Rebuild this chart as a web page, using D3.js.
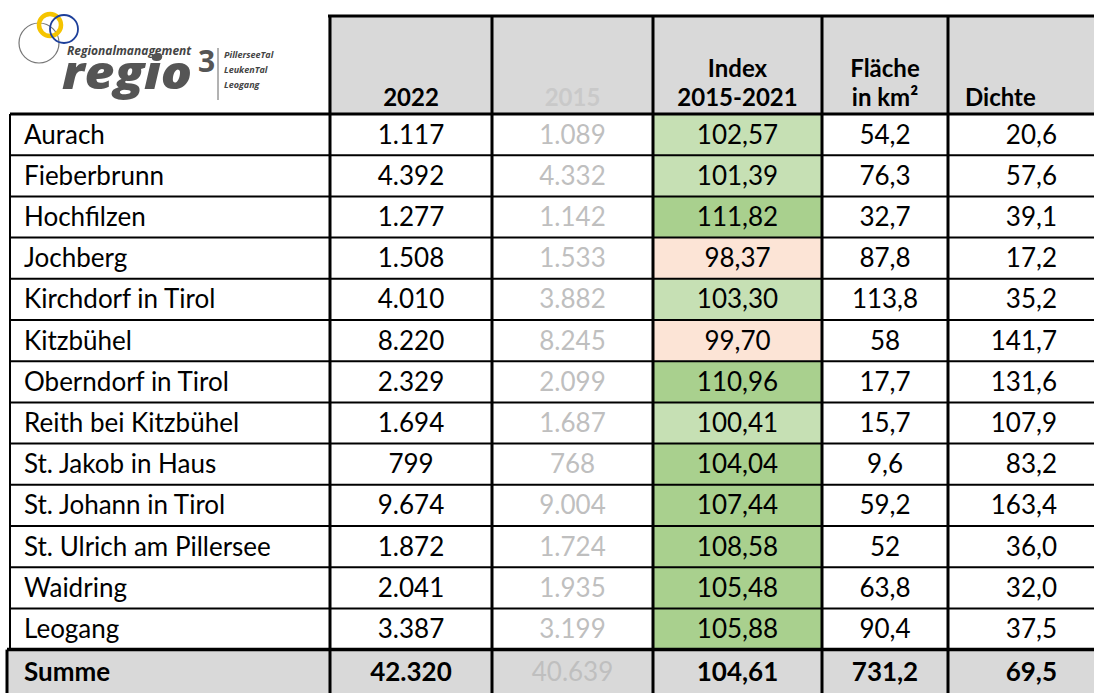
<!DOCTYPE html>
<html>
<head>
<meta charset="utf-8">
<script src="https://cdn.jsdelivr.net/npm/d3@7"></script>
<style>
  body { margin: 0; background: #fff; }
  svg { display: block; font-family: Lato, "Open Sans", sans-serif; }
</style>
</head>
<body>
<svg width="1094" height="693"></svg>
<script>
// Gemeinden und Werte
var gemeinden = ["Aurach", "Fieberbrunn", "Hochfilzen", "Jochberg", "Kirchdorf in Tirol", "Kitzbühel",
  "Oberndorf in Tirol", "Reith bei Kitzbühel", "St. Jakob in Haus", "St. Johann in Tirol",
  "St. Ulrich am Pillersee", "Waidring", "Leogang"];
var ew2022 = [1117, 4392, 1277, 1508, 4010, 8220, 2329, 1694, 799, 9674, 1872, 2041, 3387];
var ew2015 = [1089, 4332, 1142, 1533, 3882, 8245, 2099, 1687, 768, 9004, 1724, 1935, 3199];
var index1521 = [102.57, 101.39, 111.82, 98.37, 103.30, 99.70, 110.96, 100.41, 104.04, 107.44, 108.58, 105.48, 105.88];
var flaeche = [54.2, 76.3, 32.7, 87.8, 113.8, 58, 17.7, 15.7, 9.6, 59.2, 52, 63.8, 90.4];
var dichte = [20.6, 57.6, 39.1, 17.2, 35.2, 141.7, 131.6, 107.9, 83.2, 163.4, 36.0, 32.0, 37.5];
var summe = [42320, 40639, 104.61, 731.2, 69.5];
var kopf = [["2022"], ["2015"], ["Index", "2015-2021"], ["Fläche", "in km²"], ["Dichte"]];

var svg = d3.select("svg");
var de = d3.formatLocale({decimal: ",", thousands: ".", grouping: [3], currency: ["", " €"]});
var fInt = de.format(",d"), f2 = de.format(",.2f"), f1 = de.format(",.1f");
var fFl = function(d) { return Number.isInteger(d) ? fInt(d) : f1(d); };

// Spalten
var edges = [10, 330, 492, 653, 822, 948, 1100];
var mid = function(i) { return (edges[i] + edges[i + 1]) / 2; };

var top0 = 114, rowH = 41.2;
var y = d3.scaleBand().domain(gemeinden).range([top0, top0 + rowH * gemeinden.length]);
var sumTop = y.range()[1], sumBot = 700;

var farbe = d3.scaleThreshold().domain([100, 104]).range(["#fce4d6", "#c6e0b4", "#a9d08e"]);

// Kopfzeile
svg.append("rect").attr("x", 328).attr("y", 16).attr("width", 780).attr("height", top0 - 16)
  .attr("fill", "#d9d9d9");
// Summe
svg.append("rect").attr("x", 7).attr("y", sumTop).attr("width", 1100).attr("height", sumBot - sumTop)
  .attr("fill", "#d9d9d9");

// Index Zellen
svg.selectAll("rect.idx").data(index1521).enter().append("rect")
  .attr("class", "idx")
  .attr("x", edges[3]).attr("y", function(d, i) { return y(gemeinden[i]); })
  .attr("width", edges[4] - edges[3]).attr("height", y.bandwidth())
  .attr("fill", function(d) { return farbe(d); });

// Zeilenlinien
svg.selectAll("line.row").data(gemeinden.slice(1)).enter().append("line")
  .attr("x1", edges[0]).attr("x2", 1100)
  .attr("y1", function(d) { return y(d); }).attr("y2", function(d) { return y(d); })
  .attr("stroke", "#000").attr("stroke-width", 2);

// Spaltenlinien
svg.selectAll("line.col").data(edges.slice(1, 6)).enter().append("line")
  .attr("x1", function(d) { return d; }).attr("x2", function(d) { return d; })
  .attr("y1", 16).attr("y2", 693)
  .attr("stroke", "#000").attr("stroke-width", 3);
svg.append("line").attr("x1", edges[0]).attr("x2", edges[0]).attr("y1", top0).attr("y2", sumTop)
  .attr("stroke", "#000").attr("stroke-width", 2);
svg.append("line").attr("x1", 7).attr("x2", 7).attr("y1", sumTop).attr("y2", 693)
  .attr("stroke", "#000").attr("stroke-width", 3);
// dicke Linien
svg.append("line").attr("x1", 328).attr("x2", 1100).attr("y1", 16).attr("y2", 16)
  .attr("stroke", "#000").attr("stroke-width", 3);
svg.append("line").attr("x1", edges[0]).attr("x2", 1100).attr("y1", top0).attr("y2", top0)
  .attr("stroke", "#000").attr("stroke-width", 3);
svg.append("line").attr("x1", 7).attr("x2", 1100).attr("y1", sumTop).attr("y2", sumTop)
  .attr("stroke", "#000").attr("stroke-width", 3.5);

// Kopftexte
kopf.forEach(function(lines, c) {
  var t = svg.append("text")
    .attr("font-size", 24).attr("font-weight", "bold")
    .attr("fill", c == 1 ? "#c9c9c9" : "#000")
    .attr("text-anchor", c == 4 ? "start" : "middle")
    .attr("x", c == 4 ? edges[5] + 17 : mid(c + 1));
  lines.forEach(function(l, j) {
    t.append("tspan").attr("x", c == 4 ? edges[5] + 17 : mid(c + 1))
      .attr("y", 106 - (lines.length - 1 - j) * 29).text(l);
  });
});

// Zeilen
var body = svg.append("g").attr("font-size", 26);
var rows = body.selectAll("g").data(gemeinden).enter().append("g")
  .attr("transform", function(d) { return "translate(0," + (y(d) + y.bandwidth() / 2 + 9) + ")"; });
rows.append("text").attr("x", 24).text(function(d) { return d; });
rows.append("text").attr("x", mid(1)).attr("text-anchor", "middle")
  .text(function(d, i) { return fInt(ew2022[i]); });
rows.append("text").attr("x", mid(2)).attr("text-anchor", "middle").attr("fill", "#bfbfbf")
  .text(function(d, i) { return fInt(ew2015[i]); });
rows.append("text").attr("x", mid(3)).attr("text-anchor", "middle")
  .text(function(d, i) { return f2(index1521[i]); });
rows.append("text").attr("x", mid(4)).attr("text-anchor", "middle")
  .text(function(d, i) { return fFl(flaeche[i]); });
rows.append("text").attr("x", 1057).attr("text-anchor", "end")
  .text(function(d, i) { return f1(dichte[i]); });

// Summenzeile
var sy = sumTop + 31;
var sg = svg.append("g").attr("font-size", 26).attr("font-weight", "bold");
sg.append("text").attr("x", 24).attr("y", sy).text("Summe");
sg.append("text").attr("x", mid(1)).attr("y", sy).attr("text-anchor", "middle").text(fInt(summe[0]));
sg.append("text").attr("x", mid(2)).attr("y", sy).attr("text-anchor", "middle")
  .attr("font-weight", "normal").attr("fill", "#bfbfbf").text(fInt(summe[1]));
sg.append("text").attr("x", mid(3)).attr("y", sy).attr("text-anchor", "middle").text(f2(summe[2]));
sg.append("text").attr("x", mid(4)).attr("y", sy).attr("text-anchor", "middle").text(fFl(summe[3]));
sg.append("text").attr("x", 1057).attr("y", sy).attr("text-anchor", "end").text(f1(summe[4]));

// Logo
var logo = svg.append("g").attr("font-family", "'Open Sans', sans-serif");
logo.append("circle").attr("cx", 39).attr("cy", 43).attr("r", 20)
  .attr("fill", "none").attr("stroke", "#777").attr("stroke-width", 1.2);
logo.append("circle").attr("cx", 50).attr("cy", 25).attr("r", 11)
  .attr("fill", "none").attr("stroke", "#f5c400").attr("stroke-width", 4.5);
logo.append("circle").attr("cx", 64).attr("cy", 29).attr("r", 14)
  .attr("fill", "none").attr("stroke", "#1d3f9a").attr("stroke-width", 1.8);
logo.append("text").attr("x", 67).attr("y", 55).attr("font-size", 12)
  .attr("font-weight", "bold").attr("font-style", "italic").attr("fill", "#444")
  .text("Regionalmanagement");
logo.append("text").attr("x", 62).attr("y", 89).attr("font-size", 46)
  .attr("font-weight", 800).attr("font-style", "italic").attr("fill", "#555")
  .attr("textLength", 130).attr("lengthAdjust", "spacingAndGlyphs").text("regio");
logo.append("text").attr("x", 198).attr("y", 72).attr("font-size", 30)
  .attr("font-weight", "bold").attr("fill", "#555").text("3");
logo.append("line").attr("x1", 218).attr("x2", 218).attr("y1", 48).attr("y2", 100)
  .attr("stroke", "#666").attr("stroke-width", 1);
["PillerseeTal", "LeukenTal", "Leogang"].forEach(function(t, i) {
  logo.append("text").attr("x", 224).attr("y", 58 + i * 15).attr("font-size", 9)
    .attr("font-weight", "bold").attr("font-style", "italic").attr("fill", "#444").text(t);
});
</script>
</body>
</html>
